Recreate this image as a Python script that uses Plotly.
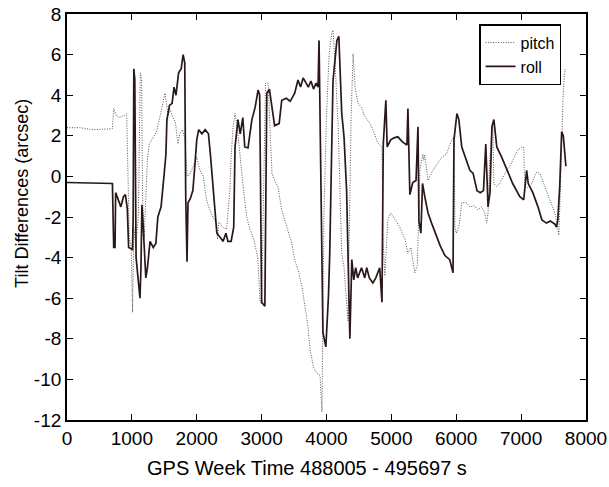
import plotly.graph_objects as go

# ---- data ----
roll_t = [0, 700, 720, 740, 750, 800, 830, 870, 900, 930, 950, 1010, 1020, 1030, 1045, 1065, 1100, 1125, 1140, 1155,
          1175, 1215, 1240, 1280, 1330, 1370, 1400, 1450, 1500, 1525, 1540, 1580, 1620, 1650, 1680, 1720, 1760, 1790,
          1815, 1830, 1850, 1865, 1900, 1940, 1970, 2000, 2030, 2080, 2130, 2180, 2210, 2250, 2310, 2360, 2405, 2450,
          2480, 2530, 2570, 2590, 2635, 2670, 2710, 2740, 2790, 2850, 2900, 2945, 2970, 3000, 3050, 3080, 3120, 3200,
          3270, 3310, 3380, 3440, 3510, 3560, 3600, 3640, 3680, 3720, 3760, 3800, 3840, 3870, 3885, 3910, 3945, 3990,
          4030, 4050, 4080, 4100, 4160, 4190, 4235, 4270, 4310, 4360, 4390, 4420, 4450, 4480, 4540, 4590, 4620, 4660,
          4715, 4760, 4820, 4855, 4875, 4915, 4935, 4990, 5040, 5100, 5170, 5240, 5255, 5285, 5330, 5380, 5410, 5425,
          5455, 5480, 5515, 5565, 5620, 5700, 5750, 5825, 5900, 5950, 5965, 6010, 6040, 6085, 6160, 6210, 6260, 6320,
          6370, 6420, 6455, 6490, 6520, 6550, 6580, 6625, 6700, 6780, 6870, 6980, 7040, 7085, 7110, 7180, 7260, 7320,
          7390, 7450, 7520, 7545, 7565, 7595, 7610, 7625, 7650, 7665, 7675, 7690]
roll_v = [-0.3, -0.35, -3.5, -3.5, -0.8, -1.2, -1.5, -1.0, -0.9, -1.6, -3.5, -3.6, -2.0, 5.3, 4.8, -4.0, -5.0, -6.0, -4.5, -1.4,
          -2.5, -5.0, -4.5, -3.2, -3.5, -3.3, -2.0, -1.5, 0.2, 1.1, 2.8, 3.5, 3.6, 4.4, 4.0, 5.1, 5.3, 6.0,
          5.6, -1.0, -4.2, -1.3, -1.1, -0.7, 0.5, 1.8, 2.3, 2.1, 2.3, 2.1, 1.1, -0.5, -2.8, -3.0, -3.2, -2.8,
          -3.2, -3.2, -2.5, 1.45, 2.8, 2.1, 2.9, 1.45, 1.4, 2.8, 3.4, 4.25, 4.0, -6.2, -6.4, 4.1, 4.3, 2.5,
          2.6, 3.75, 3.85, 3.7, 4.1, 4.75, 4.4, 4.85, 4.6, 4.4, 4.7, 4.3, 4.6, 4.4, 6.7, -0.2, -7.7, -8.4,
          -5.9, -3.8, 1.45, 4.7, 6.7, 6.9, 3.1, 1.95, -0.7, -8.0, -4.1, -5.1, -4.5, -5.0, -4.5, -5.0, -4.5, -5.0,
          -5.25, -5.0, -4.5, -6.2, 1.6, 3.75, 1.45, 1.8, 1.9, 1.95, 1.7, 1.55, 3.35, -0.9, -0.3, -0.2, 2.45, -2.2,
          -2.8, -0.35, -1.0, -1.8, -2.3, -3.0, -3.4, -3.9, -4.1, -4.75, 1.8, 3.1, 2.8, 1.45, 0.8, 0.3, 0.15, -0.7,
          -0.8, -0.7, 1.6, -1.5, -0.8, 2.45, 2.8, 1.45, 0.95, 0.3, -0.35, -1.0, -1.15, 0.3, -0.35, -0.8, -1.5, -2.15,
          -2.3, -2.2, -2.35, -2.5, -2.15, -0.5, 1.6, 2.2, 2.0, 1.45, 1.1, 0.5]

pitch_t = [0, 200, 400, 700, 720, 760, 800, 880, 920, 940, 960, 990, 1010, 1030, 1060, 1100, 1130, 1150, 1165, 1190,
           1215, 1240, 1270, 1330, 1380, 1430, 1510, 1560, 1590, 1630, 1670, 1710, 1740, 1780, 1820, 1850, 1890, 1940,
           2000, 2050, 2100, 2150, 2200, 2250, 2300, 2320, 2340, 2400, 2460, 2510, 2530, 2560, 2590, 2620, 2665, 2715,
           2770, 2820, 2880, 2940, 2975, 3000, 3060, 3100, 3160, 3200, 3250, 3310, 3390, 3465, 3510, 3560, 3620, 3670,
           3715, 3745, 3800, 3850, 3900, 3930, 3960, 4000, 4040, 4080, 4100, 4130, 4180, 4235, 4270, 4330, 4350, 4380,
           4410, 4440, 4485, 4540, 4580, 4620, 4670, 4715, 4790, 4855, 4870, 4900, 4945, 4990, 5055, 5130, 5210, 5255,
           5300, 5360, 5400, 5440, 5485, 5500, 5515, 5565, 5640, 5720, 5780, 5850, 5930, 5965, 5980, 6000, 6040, 6085,
           6160, 6210, 6280, 6335, 6390, 6440, 6470, 6490, 6515, 6550, 6565, 6580, 6620, 6670, 6750, 6825, 6900, 6950,
           7010, 7040, 7055, 7100, 7165, 7210, 7240, 7290, 7365, 7440, 7520, 7545, 7565, 7580, 7600, 7625, 7645, 7660,
           7675, 7690]
pitch_v = [2.4, 2.4, 2.3, 2.35, 3.35, 3.0, 2.9, 3.0, 3.1, -0.5, -3.0, -3.5, -6.7, -2.5, -3.5, -2.0, 5.1, 4.8, -1.0, -3.0,
           -1.0, 0.9, 1.6, 1.95, 2.2, 2.9, 4.1, 3.0, 3.3, 2.9, 2.7, 1.6, 2.1, 2.3, 1.8, 0.0, 0.1, 0.45,
           0.95, 0.3, 0.0, -1.15, -1.65, -2.0, -2.3, -3.1, -2.25, -2.5, -2.6, -0.7, 0.95, 2.45, 3.1, 2.6, 1.1, -0.5,
           -2.0, -2.6, -3.1, -4.0, -6.1, -6.3, 4.6, 4.6, 0.15, -0.2, -0.5, -1.65, -2.5, -3.3, -4.1, -4.6, -5.4, -6.4,
           -7.4, -8.5, -9.4, -9.7, -9.8, -11.6, -2.0, 3.0, 6.0, 7.05, 7.2, 5.7, 2.45, -3.8, -4.5, -7.1, -3.0, 3.0,
           6.05, 4.4, 3.6, 3.4, 3.0, 2.8, 2.6, 2.3, 1.65, 1.45, -3.0, -4.9, -2.15, -1.8, -2.15, -2.5, -3.1, -3.8,
           -3.5, -4.75, -4.4, 0.3, 1.1, 0.8, 1.05, -0.2, 0.3, 0.65, 0.95, 1.1, 1.8, 1.95, -2.5, -2.8, -2.5, -1.3,
           -1.3, -1.5, -1.45, -1.65, -1.5, -1.8, -2.3, -1.8, 0.8, 2.3, 2.45, -0.35, -0.5, -0.35, 0.15, 0.5, 0.95, 1.3,
           1.45, 1.45, -0.5, -0.55, -0.35, 0.05, 0.2, 0.15, -0.5, -1.15, -1.8, -2.15, -2.6, -2.9, -1.15, 2.45, 3.75, 4.75,
           5.25, 5.3]

x_ticks = [0, 1000, 2000, 3000, 4000, 5000, 6000, 7000, 8000]
y_ticks = [-12, -10, -8, -6, -4, -2, 0, 2, 4, 6, 8]
x_title = "GPS Week Time 488005 - 495697 s"
y_title = "Tilt Differences (arcsec)"

FONT = "Arial, Liberation Sans, sans-serif"

fig = go.Figure()
fig.add_trace(go.Scatter(x=pitch_t, y=pitch_v, mode="lines", name="pitch",
                         line=dict(color="#555555", width=1, dash="1px,1.5px")))
fig.add_trace(go.Scatter(x=roll_t, y=roll_v, mode="lines", name="roll",
                         line=dict(color="#2a1818", width=1.7)))

axis_common = dict(showline=True, linecolor="black", linewidth=1.8, mirror="ticks",
                   ticks="inside", ticklen=6, tickwidth=1.2, tickcolor="black",
                   showgrid=False, zeroline=False, automargin=False,
                   tickfont=dict(family=FONT, size=19, color="black"))

fig.update_xaxes(range=[0, 8000], tickvals=x_ticks, ticktext=[str(v) for v in x_ticks], **axis_common)
fig.update_yaxes(range=[-12, 8], tickvals=y_ticks, ticktext=[str(v) for v in y_ticks], **axis_common)

fig.add_annotation(text=x_title, xref="paper", yref="paper", x=0.462, y=-0.118,
                   xanchor="center", yanchor="middle", showarrow=False,
                   font=dict(family=FONT, size=20, color="black"))
fig.add_annotation(text=y_title, xref="paper", yref="paper", x=-0.087, y=0.559,
                   xanchor="center", yanchor="middle", showarrow=False, textangle=-90,
                   font=dict(family=FONT, size=18, color="black"))

fig.update_layout(
    width=609, height=487,
    margin=dict(l=67, r=23, t=14, b=67),
    paper_bgcolor="white", plot_bgcolor="white",
    font=dict(family=FONT, size=17, color="black"),
    showlegend=True,
    legend=dict(x=0.794, y=0.975, xanchor="left", yanchor="top",
                bgcolor="white", bordercolor="black", borderwidth=1.5,
                font=dict(family=FONT, size=16, color="black"),
                tracegroupgap=0, itemwidth=30),
)

fig.write_html("out.html", config={"displayModeBar": False},
               post_script="document.body.style.margin='0';")
